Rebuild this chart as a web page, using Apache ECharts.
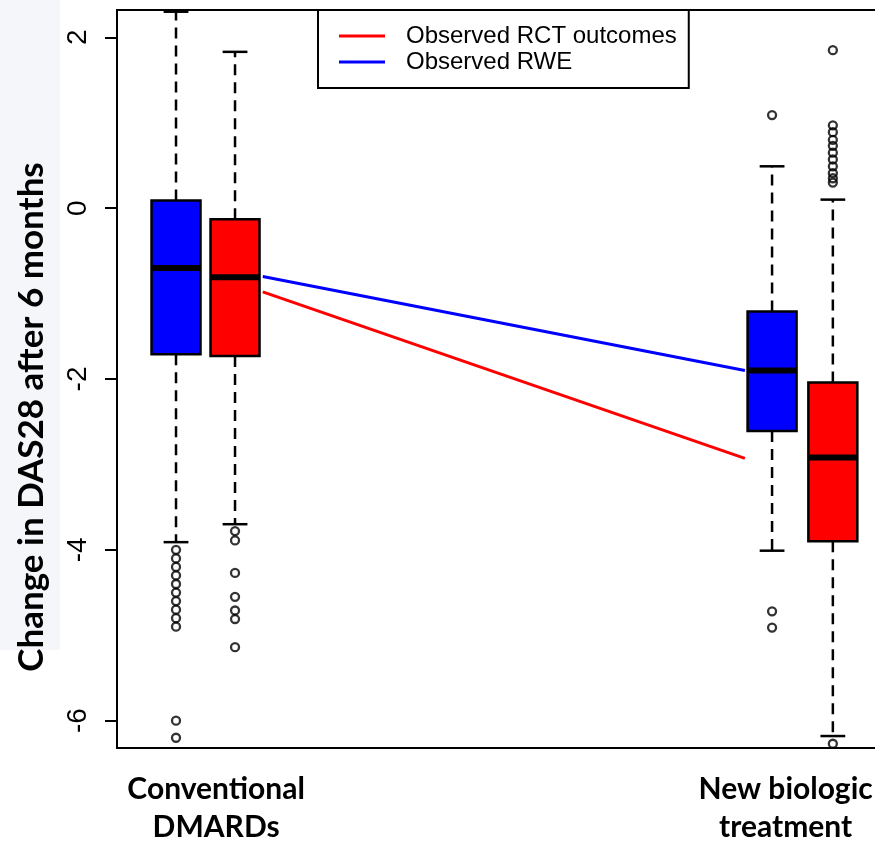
<!DOCTYPE html>
<html>
<head>
<meta charset="utf-8">
<script src="https://cdn.jsdelivr.net/npm/echarts@6/dist/echarts.min.js"></script>
<style>
html,body{margin:0;padding:0;background:#fff;}
#chart{width:875px;height:842px;}
</style>
</head>
<body>
<div id="chart"></div>
<script>
// ---- data ----
const groupLabels = ['Conventional\nDMARDs', 'New biologic\ntreatment'];
const groupLabelSlots = [1.68, 11.33];
const yTicks = [-6, -4, -2, 0, 2];

// box slot (x on the value axis) for each group
const rweSlots = [1, 11.1];
const rctSlots = [2, 12.13];

// [lower whisker, Q1, median, Q3, upper whisker]
const rweStats = [
  [-3.91, -1.71, -0.70, 0.09, 2.30],
  [-4.01, -2.61, -1.90, -1.21, 0.49]
];
const rctStats = [
  [-3.70, -1.73, -0.81, -0.13, 1.83],
  [-6.18, -3.90, -2.92, -2.04, 0.10]
];

const rweOutliersConv = [-4.0, -4.1, -4.2, -4.3, -4.4, -4.5, -4.6, -4.7, -4.8, -4.9, -6.0, -6.2];
const rweOutliersNew = [1.09, -4.72, -4.91];
const rctOutliersConv = [-3.78, -3.89, -4.27, -4.55, -4.71, -4.81, -5.14];
const rctOutliersNew = [1.85, 0.97, 0.89, 0.80, 0.73, 0.65, 0.57, 0.49, 0.41, 0.35, 0.30, -6.27];

// trend lines between the groups
const trendX = [2.47, 10.64];
const rctTrend = [-0.98, -2.93];
const rweTrend = [-0.80, -1.90];

// ---- build ----
const BLUE = '#0000ff', RED = '#ff0000';
const boxWidth = 0.83, capWidth = 0.42;

function boxData(slots, stats) {
  return slots.map((s, i) => [s].concat(stats[i]));
}
function outlierData(slot, vals) { return vals.map(v => [slot, v]); }

function makeRender(color) {
  return function (params, api) {
    const x = api.value(0);
    const lo = api.value(1), q1 = api.value(2), md = api.value(3), q3 = api.value(4), hi = api.value(5);
    const half = api.size([boxWidth, 0])[0] / 2;
    const capHalf = api.size([capWidth, 0])[0] / 2;
    const pLo = api.coord([x, lo]), pQ1 = api.coord([x, q1]), pMd = api.coord([x, md]),
          pQ3 = api.coord([x, q3]), pHi = api.coord([x, hi]);
    const cx = pMd[0];
    const dash = { stroke: '#000', lineWidth: 2.5, lineDash: [11, 7] };
    const solid = { stroke: '#000', lineWidth: 2.5 };
    return {
      type: 'group',
      children: [
        { type: 'line', shape: { x1: cx, y1: pQ3[1], x2: cx, y2: pHi[1] }, style: dash },
        { type: 'line', shape: { x1: cx, y1: pQ1[1], x2: cx, y2: pLo[1] }, style: dash },
        { type: 'line', shape: { x1: cx - capHalf, y1: pHi[1], x2: cx + capHalf, y2: pHi[1] }, style: solid },
        { type: 'line', shape: { x1: cx - capHalf, y1: pLo[1], x2: cx + capHalf, y2: pLo[1] }, style: solid },
        { type: 'rect', shape: { x: cx - half, y: pQ3[1], width: half * 2, height: pQ1[1] - pQ3[1] },
          style: { fill: color, stroke: '#000', lineWidth: 2.5 } },
        { type: 'line', shape: { x1: cx - half, y1: pMd[1], x2: cx + half, y2: pMd[1] },
          style: { stroke: '#000', lineWidth: 6 } }
      ]
    };
  };
}

const outlierStyle = { color: 'transparent', borderColor: '#000', borderWidth: 2.3 };

const chart = echarts.init(document.getElementById('chart'), null, { renderer: 'canvas' });
chart.setOption({
  animation: false,
  backgroundColor: '#fff',
  graphic: [{
    type: 'rect', left: 0, top: 0, z: -10, silent: true,
    shape: { width: 60, height: 650 }, style: { fill: '#f4f6fa' }
  }],
  grid: {
    left: 117, top: 10, right: -21, bottom: 94,
    outerBoundsMode: 'none', containLabel: false,
    show: true, borderColor: '#000', borderWidth: 2, backgroundColor: 'transparent'
  },
  legend: {
    orient: 'vertical', left: 318, top: 10,
    padding: [14, 12, 14, 21], itemGap: 2,
    itemWidth: 46, itemHeight: 3,
    backgroundColor: '#fff', borderColor: '#000', borderWidth: 2,
    textStyle: { fontFamily: 'Liberation Sans', fontSize: 24, color: '#000', padding: [0, 0, 0, 16] },
    data: [
      { name: 'Observed RCT outcomes', icon: 'rect', itemStyle: { color: RED } },
      { name: 'Observed RWE', icon: 'rect', itemStyle: { color: BLUE } }
    ],
    selectedMode: false
  },
  xAxis: {
    type: 'value', min: 0, max: 13.2,
    axisLine: { show: false }, axisTick: { show: false }, splitLine: { show: false },
    axisLabel: {
      customValues: groupLabelSlots,
      formatter: v => groupLabels[groupLabelSlots.indexOf(v)] || '',
      fontFamily: 'Lato', fontWeight: 'bold', fontSize: 30, color: '#000',
      lineHeight: 38, margin: 22
    }
  },
  yAxis: {
    type: 'value', min: -6.32, max: 2.32,
    name: 'Change in DAS28 after 6 months', nameLocation: 'middle', nameGap: 68, nameRotate: 90,
    nameTextStyle: { fontFamily: 'Lato', fontWeight: 'bold', fontSize: 35, color: '#000', padding: [0, 76, 0, 0] },
    axisLine: { show: true, lineStyle: { color: '#000', width: 2 } },
    axisTick: { show: true, customValues: yTicks, length: 12, lineStyle: { color: '#000', width: 2 } },
    axisLabel: { customValues: yTicks, rotate: 90, fontFamily: 'Liberation Sans', fontSize: 28, color: '#000', margin: 25 },
    splitLine: { show: false }
  },
  series: [
    { name: 'RWE boxes', type: 'custom', renderItem: makeRender(BLUE), data: boxData(rweSlots, rweStats),
      encode: { x: 0, y: [1, 2, 3, 4, 5] }, z: 3 },
    { name: 'RCT boxes', type: 'custom', renderItem: makeRender(RED), data: boxData(rctSlots, rctStats),
      encode: { x: 0, y: [1, 2, 3, 4, 5] }, z: 3 },
    { name: 'RWE outliers', type: 'scatter', symbol: 'circle', symbolSize: 8, itemStyle: outlierStyle, z: 4,
      data: outlierData(rweSlots[0], rweOutliersConv).concat(outlierData(rweSlots[1], rweOutliersNew)) },
    { name: 'RCT outliers', type: 'scatter', symbol: 'circle', symbolSize: 8, itemStyle: outlierStyle, z: 4,
      data: outlierData(rctSlots[0], rctOutliersConv).concat(outlierData(rctSlots[1], rctOutliersNew)) },
    { name: 'Observed RCT outcomes', type: 'line', showSymbol: false, symbol: 'none', z: 2,
      lineStyle: { color: RED, width: 3 }, itemStyle: { color: RED },
      data: trendX.map((x, i) => [x, rctTrend[i]]) },
    { name: 'Observed RWE', type: 'line', showSymbol: false, symbol: 'none', z: 2,
      lineStyle: { color: BLUE, width: 3 }, itemStyle: { color: BLUE },
      data: trendX.map((x, i) => [x, rweTrend[i]]) }
  ]
});
</script>
</body>
</html>
